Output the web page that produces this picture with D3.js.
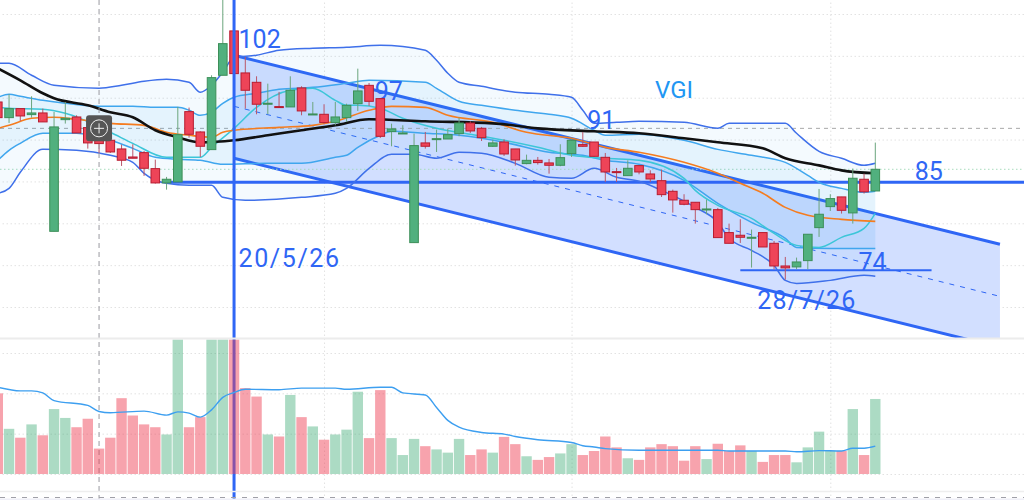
<!DOCTYPE html>
<html>
<head>
<meta charset="utf-8">
<title>VGI</title>
<script src="https://cdn.jsdelivr.net/npm/d3@7"></script>
<style>
	html,body{margin:0;padding:0;background:#fff;overflow:hidden;}
	svg{display:block;}
	text{font-family:Roboto,sans-serif;}
	.grid path{display:none;}
	.grid line{stroke:#e2e2e2;stroke-dasharray:1.5 2.5;}
</style>
</head>
<body>
<div id="chart"></div>
<script>
// candles, bar index = position in the list
var open = [94.49,92.62,93.70,92.98,93.18,79.04,92.38,92.70,91.43,90.91,
	89.92,88.88,87.92,88.44,86.53,84.82,84.94,93.34,90.91,88.80,
	97.68,102.98,97.96,96.84,94.22,93.94,93.90,96.17,92.94,93.02,
	92.03,92.62,94.29,96.48,94.89,90.95,90.67,77.69,89.60,89.99,
	90.07,90.71,91.98,91.35,89.20,89.71,88.88,87.13,87.52,87.21,
	86.93,88.32,89.40,89.71,87.88,86.17,85.69,86.89,85.89,85.09,
	83.82,82.75,82.51,81.63,81.63,78.89,78.57,78.25,78.89,77.61,
	74.90,74.79,75.54,79.48,81.99,83.15,81.24,85.26,83.86];
var close = [92.62,93.70,92.82,93.18,92.11,91.51,92.54,90.79,89.60,89.52,
	88.52,87.53,87.77,86.57,84.82,85.26,90.59,90.63,89.20,97.40,
	101.46,97.88,95.89,94.22,94.34,93.86,95.89,93.42,93.06,92.03,
	92.70,94.09,95.81,94.57,90.39,91.27,90.79,89.28,89.20,90.11,
	90.59,91.98,91.03,90.23,89.60,88.28,87.56,87.52,87.25,86.93,
	87.84,89.91,89.20,88.00,86.13,86.05,86.57,86.13,85.29,83.42,
	82.79,82.27,81.63,81.71,78.29,77.61,78.33,78.33,77.17,74.90,
	74.67,75.38,78.69,81.08,82.95,81.55,85.38,83.76,86.45];
var high = [94.9,95.41,93.70,95.17,93.70,93.30,94.49,92.90,91.6,91.2,
	90.51,89.40,89.44,88.64,87.61,85.54,93.90,93.82,90.99,97.68,
	108,103.1,99.87,97.56,96.68,95.69,97.56,96.37,94.49,94.22,
	94.49,94.29,98.47,96.76,94.89,91.90,91.71,90.71,90.91,91.19,
	91.31,92.62,92.18,91.51,89.99,90.03,88.88,88.20,87.92,87.68,
	89.44,90.11,90.91,89.71,88.40,86.61,87.52,86.89,86.33,86.41,
	84.02,83.47,82.51,82.83,81.83,79.96,80.48,79.25,78.89,77.89,
	75.98,75.90,78.69,84.10,83.47,83.15,86.53,85.93,89.64];
var low = [92.4,91.99,92.22,92.62,92.11,79.04,91.91,90.79,88.92,88.40,
	88.40,86.85,87.77,85.66,84.74,84.02,84.94,90.23,87.92,88.80,
	97.68,97.80,93.70,93.02,93.02,93.82,93.90,92.90,92.94,91.83,
	91.71,92.10,93.42,94.02,90.19,89.20,90.67,77.69,88.92,88.52,
	90.07,90.39,90.79,89.83,89.12,88.04,86.89,87.05,87.01,85.93,
	86.81,87.92,89.12,87.92,84.94,84.94,85.69,85.85,84.94,83.14,
	81.27,82.15,79.96,81.08,78.29,77.61,77.65,74.71,77.17,74.51,
	73.27,74.51,74.51,78.37,81.47,81.16,79.96,83.55,83.86];
var volume = [200,112,90,123,96,161,139,116,137,63,
	90,188,145,123,116,98,360,116,141,360,
	360,360,213,192,98,93,196,141,118,85,
	98,110,204,89,208,89,47,87,69,61,
	53,87,47,61,53,92,74,44,35,42,
	51,74,47,57,93,66,39,35,66,74,
	69,33,69,37,75,57,71,57,30,47,
	47,29,66,105,57,57,161,47,186];

var bandOuterUp = [[0,99.11],[1,99.11],[3,97.68],[5,96.48],[9,96.12],[11,96.48],[13,96.96],[15,97.20],[17,96.84],[18,95.65],[19,96.48],[20,98.04],[21,99.83],[23,100.07],[25,100.67],[28,100.90],[31,101.02],[34,101.26],[38,100.67],[39,99.47],[40,97.92],[41,96.84],[43,96.36],[46,95.65],[49,95.41],[51,95.05],[52,93.50],[53,91.94],[55,92.06],[57,92.18],[61,92.06],[64,91.34],[65,91.94],[67,91.94],[70,91.94],[71,90.75],[73,88.60],[75,87.76],[77,86.92],[78,87.16]];
var bandInnerUp = [[0,95.05],[1,95.41],[2,95.17],[4,94.69],[6,94.33],[9,93.97],[12,93.97],[14,93.85],[16,93.85],[17,93.50],[18,92.90],[19,93.26],[20,94.33],[21,95.05],[23,95.53],[25,96.00],[28,96.24],[31,96.72],[33,97.08],[38,96.84],[39,96.12],[41,94.57],[43,94.09],[46,93.50],[49,93.02],[51,92.54],[53,91.11],[54,90.51],[57,90.63],[61,89.91],[64,88.83],[67,88.12],[70,87.28],[72,85.73],[73,84.89],[75,84.17],[77,83.70],[78,83.82]];
var bandMid = [[0,93.85],[1,93.73],[4,93.61],[6,93.14],[10,90.87],[12,89.55],[15,87.88],[18,87.88],[19,89.07],[21,91.34],[23,93.85],[26,95.88],[28,96.12],[30,94.69],[31,94.09],[32,94.09],[34,93.73],[36,92.54],[39,91.34],[42,90.63],[45,89.91],[48,89.07],[51,88.12],[54,87.76],[57,87.52],[61,85.37],[62,83.93],[64,82.14],[67,80.59],[69,78.80],[71,77.36],[73,77.12],[75,78.32],[77,79.39],[78,81.19]];
var bandInnerLow = [[0,87.52],[1,88.72],[2,89.55],[4,90.75],[7,90.75],[10,89.91],[12,88.95],[14,87.88],[16,87.64],[18,87.52],[20,87.04],[24,87.16],[27,87.16],[30,87.88],[31,88.12],[32,89.07],[34,90.51],[35,90.99],[38,90.75],[41,90.51],[45,89.67],[49,88.48],[52,88.12],[54,87.52],[57,87.04],[61,85.13],[64,82.38],[67,80.11],[70,78.20],[71,77.12],[74,77.00],[78,77.00]];
var bandOuterLow = [[0,83.58],[1,84.17],[2,86.09],[4,88.83],[7,88.72],[10,88.12],[12,87.28],[13,85.97],[15,84.77],[17,84.53],[19,84.53],[20,83.10],[22,82.74],[27,83.10],[30,83.58],[31,84.17],[33,86.56],[35,88.24],[37,88.24],[39,87.76],[41,88.48],[43,88.36],[46,87.16],[49,85.49],[51,85.37],[53,86.56],[55,85.49],[57,85.01],[59,83.93],[62,81.90],[64,80.11],[65,78.20],[67,76.77],[69,74.97],[70,73.18],[71,72.82],[74,73.18],[77,73.78],[78,73.66]];
var maOrange = [[0,91.34],[1,91.70],[3,92.54],[5,92.66],[7,92.42],[10,91.94],[13,91.70],[15,90.87],[17,90.51],[19,90.27],[20,90.87],[21,91.11],[25,91.46],[28,91.70],[30,92.18],[33,93.50],[35,93.97],[38,93.85],[40,92.90],[44,92.06],[47,90.87],[51,90.15],[54,89.07],[57,88.48],[61,87.28],[64,85.97],[66,84.77],[68,83.58],[70,81.90],[72,80.95],[75,80.47],[78,80.23]];
var maBlack = [[0,98.51],[2,97.08],[4,95.53],[5,94.93],[8,94.09],[10,93.26],[12,92.66],[14,91.11],[16,90.27],[18,89.67],[21,89.91],[24,90.51],[27,91.11],[30,91.70],[33,92.42],[38,92.18],[44,91.94],[48,91.34],[53,90.99],[57,90.75],[61,90.15],[64,89.67],[68,88.95],[70,87.76],[73,86.92],[75,86.32],[78,85.97]];
var volumeMa = [[0,215],[2,206],[3,206],[4,201],[5,182],[8,170],[9,155],[10,152],[13,156],[15,146],[16,154],[17,151],[18,141],[19,159],[20,190],[21,202],[22,210],[25,209],[27,213],[30,213],[31,210],[34,215],[35,215],[36,201],[38,196],[39,165],[40,133],[41,116],[43,103],[45,99],[46,93],[48,85],[51,78],[52,70],[53,67],[54,63],[57,59],[61,59],[64,59],[65,57],[70,57],[71,55],[73,58],[75,57],[76,64],[77,64],[78,69]];

// drawings
var channelTop = [[21,100.07],[89.08,77.49]];
var channelMid = [[21,93.97],[89.08,71.27]];
var channelLow = [[21,87.76],[89.08,65.17]];
var priceGrid = [70,75,80,85,90,95,100,105];
var volumeGrid = [0,100,200,300];
var timeGrid = [29,51,74];
var crossBar = 9, crossPrice = 91.34, lastPrice = 86.45;
var markBar = 21, levelHigh = 84.9, levelLow = 74.4;
var levelHighFrom = 15, levelLowFrom = 66, levelLowTo = 83;
var labels = [
	{t:"102",b:21.4,p:100.9,ls:0},
	{t:"97",b:33.5,p:94.7,ls:0},
	{t:"91",b:52.4,p:91.3,ls:0},
	{t:"85",b:81.5,p:85.2,ls:0},
	{t:"74",b:76.5,p:74.3,ls:0},
	{t:"20/5/26",b:21.4,p:74.8,ls:1.6},
	{t:"28/7/26",b:67.5,p:69.8,ls:1.2}
];

var w = 1024, h = 500;
var svg = d3.select("#chart").append("svg").attr("width",w).attr("height",h);

var x = d3.scaleLinear().domain([0,78]).range([-2.2,875.3]);
var y = d3.scaleLinear().domain([70,105]).range([307,14]);
var yVol = d3.scaleLinear().domain([0,300]).range([474,353]);

var defs = svg.append("defs");
defs.append("clipPath").attr("id","mainClip").append("rect").attr("width",w).attr("height",338);
defs.append("clipPath").attr("id","volClip").append("rect").attr("y",339.5).attr("width",w).attr("height",152);

var blue = "#2f66f5";

// grid
svg.append("g").attr("class","grid").attr("transform","translate("+w+",0)")
	.call(d3.axisLeft(y).tickValues(priceGrid).tickSize(w).tickFormat(""));
svg.append("g").attr("class","grid").attr("transform","translate("+w+",0)")
	.call(d3.axisLeft(yVol).tickValues(volumeGrid).tickSize(w).tickFormat(""));
svg.append("g").attr("class","grid").attr("transform","translate(0,500)")
	.call(d3.axisTop(x).tickValues(timeGrid).tickSize(500).tickFormat(""));

var main = svg.append("g").attr("clip-path","url(#mainClip)");
var line = d3.line().x(function(d){return x(d[0]);}).y(function(d){return y(d[1]);});
var smooth = d3.line().x(function(d){return x(d[0]);}).y(function(d){return y(d[1]);}).curve(d3.curveMonotoneX);

// channel
main.append("path").attr("d",line(channelTop.concat(channelLow.slice().reverse()))+"Z")
	.attr("fill","#d2dfff");
main.append("path").attr("d",line(channelMid)).attr("fill","none").attr("stroke",blue)
	.attr("stroke-width",1).attr("stroke-dasharray","5 6");
[channelTop,channelLow].forEach(function(c){
	main.append("path").attr("d",line(c)).attr("fill","none").attr("stroke",blue).attr("stroke-width",3);
});

// price lines
main.append("line").attr("x1",0).attr("x2",w).attr("y1",y(lastPrice)).attr("y2",y(lastPrice))
	.attr("stroke","#a9dcbd").attr("stroke-dasharray","1.5 2.5");
main.append("line").attr("x1",0).attr("x2",w).attr("y1",y(crossPrice)).attr("y2",y(crossPrice))
	.attr("stroke","#a8a8a8").attr("stroke-dasharray","4 4");
svg.append("line").attr("x1",x(crossBar)).attr("x2",x(crossBar)).attr("y1",0).attr("y2",h)
	.attr("stroke","#9a9aa0").attr("stroke-dasharray","5 4");

// bollinger fill, outer then inner
function band(up,low,fill){
	main.append("path").attr("d",smooth(up)+"L"+smooth(low.slice().reverse()).slice(1)+"Z")
		.attr("fill",fill).attr("stroke","none");
}
band(bandOuterUp,bandOuterLow,"rgba(33,150,243,0.05)");
band(bandInnerUp,bandInnerLow,"rgba(33,150,243,0.07)");

// marker lines
svg.append("line").attr("x1",x(markBar)).attr("x2",x(markBar)).attr("y1",0).attr("y2",h)
	.attr("stroke",blue).attr("stroke-width",3);
main.append("line").attr("x1",x(levelHighFrom)).attr("x2",w).attr("y1",y(levelHigh)).attr("y2",y(levelHigh))
	.attr("stroke",blue).attr("stroke-width",3);
main.append("line").attr("x1",x(levelLowFrom)).attr("x2",x(levelLowTo)).attr("y1",y(levelLow)).attr("y2",y(levelLow))
	.attr("stroke",blue).attr("stroke-width",2);

// indicator lines
function drawLine(data,color,width){
	main.append("path").attr("d",smooth(data)).attr("fill","none").attr("stroke",color)
		.attr("stroke-width",width).attr("stroke-linejoin","round");
}
drawLine(bandOuterUp,"#3f70ea",1.5);
drawLine(bandOuterLow,"#3f70ea",1.5);
drawLine(bandInnerUp,"#3fa6ee",1.5);
drawLine(bandInnerLow,"#3fa6ee",1.5);
drawLine(bandMid,"#3cc6d8",1.5);
drawLine(maOrange,"#f57c1f",1.6);
drawLine(maBlack,"#111",2.6);

// labels sit under the candles
labels.forEach(function(d){
	main.append("text").text(d.t).attr("x",x(d.b)).attr("y",y(d.p))
		.attr("font-size",25).attr("letter-spacing",d.ls).attr("fill",blue);
});
main.append("text").text("VGI").attr("x",655).attr("y",y(94.93)).attr("font-size",24).attr("fill","#2196f3");

// candles
var bars = d3.range(open.length);
var isUp = function(i){return close[i] >= open[i];};
var bodyW = 8.6;
var candle = main.append("g").selectAll("g").data(bars).enter().append("g");
candle.append("line")
	.attr("x1",function(i){return x(i);}).attr("x2",function(i){return x(i);})
	.attr("y1",function(i){return y(high[i]);}).attr("y2",function(i){return y(low[i]);})
	.attr("stroke",function(i){return isUp(i) ? "#6ba57d" : "#bb5568";}).attr("stroke-width",1);
candle.append("rect")
	.attr("x",function(i){return x(i)-bodyW/2;}).attr("width",bodyW)
	.attr("y",function(i){return y(Math.max(open[i],close[i]));})
	.attr("height",function(i){return Math.max(1,Math.abs(y(open[i])-y(close[i])));})
	.attr("fill",function(i){return isUp(i) ? "#51b07e" : "#ee4458";})
	.attr("stroke",function(i){return isUp(i) ? "#3c8f58" : "#b81c30";}).attr("stroke-width",1);

// crosshair button
var btn = svg.append("g").attr("transform","translate("+x(crossBar)+","+y(crossPrice)+")");
btn.append("rect").attr("x",-13).attr("y",-13).attr("width",26).attr("height",26).attr("rx",3).attr("fill","#555");
btn.append("circle").attr("r",8.5).attr("fill","none").attr("stroke","#eee").attr("stroke-width",1);
btn.append("path").attr("d","M-5,0H5M0,-5V5").attr("stroke","#eee").attr("stroke-width",1);

// volume pane
var vol = svg.append("g").attr("clip-path","url(#volClip)");
vol.selectAll("rect").data(bars).enter().append("rect")
	.attr("x",function(i){return x(i)-5.2;}).attr("width",10.4)
	.attr("y",function(i){return yVol(volume[i]);})
	.attr("height",function(i){return yVol(0)-yVol(volume[i]);})
	.attr("fill",function(i){return isUp(i) ? "rgba(38,160,100,0.38)" : "rgba(238,60,80,0.47)";});
var lineVol = d3.line().x(function(d){return x(d[0]);}).y(function(d){return yVol(d[1]);}).curve(d3.curveMonotoneX);
vol.append("path").attr("d",lineVol(volumeMa)).attr("fill","none").attr("stroke","#3d9ff0").attr("stroke-width",1.4);

// pane separators
svg.append("line").attr("x1",0).attr("x2",w).attr("y1",338.5).attr("y2",338.5).attr("stroke","#ececec").attr("stroke-width",2);
svg.append("line").attr("x1",0).attr("x2",w).attr("y1",491.5).attr("y2",491.5).attr("stroke","#eeeeee").attr("stroke-width",1.5);
svg.append("line").attr("x1",0).attr("x2",w).attr("y1",497.5).attr("y2",497.5).attr("stroke","#a0a0a8").attr("stroke-dasharray","5 6");
svg.append("rect").attr("x",0).attr("y",498.5).attr("width",w).attr("height",1.5).attr("fill","#f0f0f8");
</script>
</body>
</html>
